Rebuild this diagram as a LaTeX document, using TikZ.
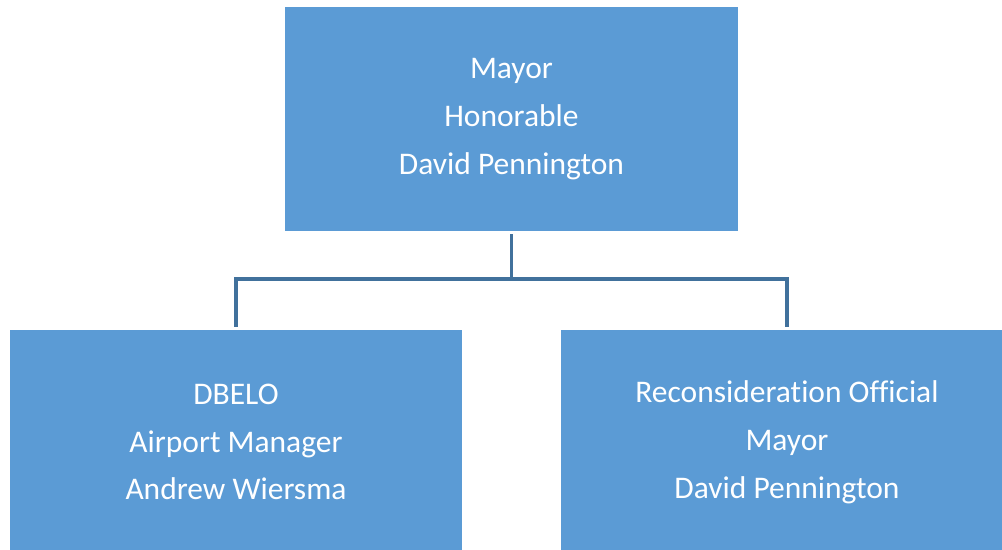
\documentclass[tikz,border=0pt]{standalone}
\usepackage{fontspec}
\setmainfont{Carlito}[Ligatures=NoCommon]
\usetikzlibrary{positioning}
\definecolor{boxblue}{HTML}{5B9BD5}
\definecolor{linkblue}{HTML}{41719C}

\begin{document}
\begin{tikzpicture}[x=0.025cm,y=-0.025cm]
	\useasboundingbox (0,0) rectangle (1002,550);
	\clip (0,0) rectangle (1002,550);
	\tikzset{OrgBox/.style = {fill=boxblue,text=white,inner sep=0pt,
		minimum width=11.3cm,minimum height=5.6cm,align=center,
		font=\fontsize{22.4}{34}\selectfont}}
	\tikzset{OrgLink/.style = {draw=linkblue,line width=2.2pt}}
	\node[OrgBox] (mayor) at (511.5,119) {Mayor\\Honorable\\David Pennington};
	\node[OrgBox] (dbelo) at (236,442) {DBELO\\Airport Manager\\Andrew Wiersma};
	\node[OrgBox] (recon) at (787,442) {Reconsideration Official\\Mayor\\David Pennington};
	\coordinate (bus) at (511.5,279);
	\draw[OrgLink] ([yshift=-2pt]mayor.south) -- (bus) -| ([yshift=2pt]dbelo.north);
	\draw[OrgLink] (bus) -| ([yshift=2pt]recon.north);
\end{tikzpicture}
\end{document}
